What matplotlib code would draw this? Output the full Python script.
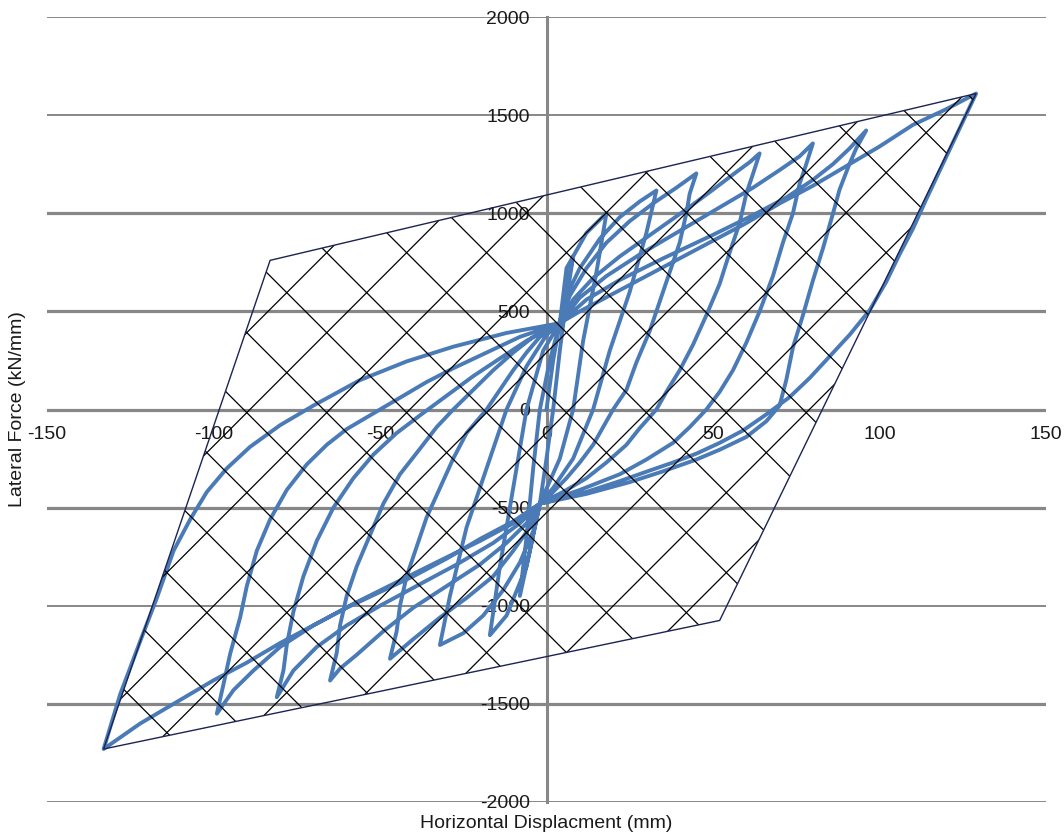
import numpy as np
import matplotlib
matplotlib.use('Agg')
import matplotlib.pyplot as plt
from matplotlib.patches import Polygon
from matplotlib.collections import LineCollection

plt.rcParams['font.family'] = ['Liberation Sans', 'DejaVu Sans']

# axis ticks
x_ticks = [-150, -100, -50, 0, 50, 100, 150]
y_ticks = [-2000, -1500, -1000, -500, 0, 500, 1000, 1500, 2000]
thick_grid = [1000, 500, 0, -500, -1500]

# hysteresis loops, one cycle each (displacement mm, force kN)
loop1_x = [0, 2, 4, 6, 8, 6, 4, 2, 0, -2, -5, -8, -6, -4, -2, 1, 4]
loop1_y = [0, 250, 440, 620, 780, 560, 300, 0, -250, -480, -720, -950, -650, -300, 0, 250, 440]

loop2_x = [4, 6, 12, 18, 15, 11, 8, 4, -2, -6, -12, -17, -14, -10, -6, -1, 4]
loop2_y = [440, 720, 900, 1000, 700, 350, 0, -250, -480, -800, -1050, -1150, -800, -400, 0, 300, 440]

loop3_x = [4, 6, 10, 16, 22, 28, 33, 30, 25, 19, 14, 8, 2, -2,
           -4, -8, -13, -19, -25, -32, -29, -24, -18, -12, -6, 0, 4]
loop3_y = [440, 580, 720, 870, 980, 1060, 1116, 900, 600, 300, 0, -250, -400, -480,
           -620, -780, -920, -1050, -1140, -1200, -950, -600, -300, 0, 220, 380, 440]

loop4_x = [4, 7, 12, 18, 25, 32, 39, 45, 43, 42, 40, 37, 34, 31, 27, 24, 20, 17, 14, 10, 6, 2, -2,
           -5, -10, -16, -24, -32, -40, -47, -45, -44, -42, -39, -36, -32, -28, -24, -18, -14, -10, -6, -2, 4]
loop4_y = [440, 580, 720, 850, 960, 1050, 1130, 1203, 1100, 1000, 850, 700, 550, 400, 240, 100, 0, -90, -180, -270,
           -350, -420, -480,
           -600, -720, -850, -960, -1060, -1170, -1270, -1130, -1000, -850, -700, -550, -400, -250, -120, 0, 100,
           200, 290, 370, 440]

loop5_x = [4, 8, 14, 22, 32, 42, 50, 57, 61, 64, 62, 60, 58, 55, 52, 48, 44, 40, 36, 33, 28, 24, 18, 12, 5, -2,
           -6, -12, -20, -30, -40, -49, -57, -62, -65, -63, -62, -60, -57, -53, -49, -44, -38, -33, -28, -22, -16,
           -10, -4, 4]
loop5_y = [440, 560, 670, 780, 900, 1020, 1120, 1210, 1260, 1305, 1200, 1100, 950, 800, 640, 480, 330, 200, 90, 0,
           -95, -180, -270, -350, -420, -480,
           -580, -680, -790, -900, -1010, -1130, -1250, -1320, -1381, -1240, -1100, -950, -800, -640, -480, -330,
           -200, -90, 0, 100, 200, 290, 370, 440]

loop6_x = [4, 10, 18, 28, 40, 52, 62, 70, 76, 80, 78, 76, 74, 71, 68, 64, 60, 56, 52, 48, 43, 38, 30, 22, 10, -2,
           -8, -16, -27, -38, -50, -60, -69, -76, -81, -79, -78, -76, -73, -69, -64, -58, -52, -45, -38, -30, -22,
           -14, -6, 4]
loop6_y = [440, 570, 680, 790, 910, 1030, 1130, 1220, 1290, 1356, 1250, 1150, 1000, 850, 680, 500, 340, 200, 90, 0,
           -90, -170, -255, -330, -410, -480,
           -580, -680, -790, -890, -1000, -1100, -1210, -1330, -1466, -1330, -1200, -1030, -850, -670, -500, -350,
           -230, -120, -30, 70, 170, 260, 350, 440]

loop7_x = [4, 12, 22, 35, 50, 62, 72, 80, 86, 91, 96, 93, 91, 88, 86, 83, 80, 77, 74, 72, 70, 66, 60, 52, 45, 35,
           25, 12, -2,
           -10, -20, -32, -45, -58, -70, -80, -88, -94, -99, -97, -95, -92, -90, -87, -83, -78, -72, -66, -60, -52,
           -45, -36, -28, -18, -8, 4]
loop7_y = [440, 560, 660, 770, 890, 990, 1080, 1170, 1250, 1330, 1422, 1330, 1252, 1120, 997, 820, 657, 480, 316,
           150, 20, -60, -140, -205, -255, -315, -370, -430, -480,
           -580, -670, -770, -880, -990, -1100, -1210, -1330, -1430, -1550, -1400, -1245, -1060, -900, -720, -560,
           -410, -280, -180, -100, -20, 50, 140, 210, 290, 370, 440]

loop8_x = [4, 10, 20, 30, 40, 50, 60, 70, 80, 90, 100, 110, 120, 129,
           124, 119, 114, 110, 106, 102, 97, 91, 85, 79, 73, 66, 59, 52, 45, 38, 31, 22, 12, -2,
           -10, -20, -30, -40, -50, -60, -70, -80, -90, -100, -110, -122, -133,
           -128, -122, -117, -112, -107, -102, -96, -89, -80, -70, -56, -42, -28, -12, 4]
loop8_y = [440, 500, 590, 680, 770, 860, 950, 1050, 1140, 1240, 1340, 1450, 1530, 1610,
           1430, 1250, 1070, 920, 790, 650, 505, 380, 270, 160, 63, -25, -107, -170, -225, -270, -311, -365, -420,
           -480,
           -570, -660, -760, -850, -930, -1010, -1100, -1190, -1290, -1380, -1480, -1600, -1730,
           -1450, -1180, -960, -720, -560, -420, -300, -190, -80, 20, 150, 245, 320, 390, 440]

# outer envelope polygon
env_x = [129, -83, -133, 52]
env_y = [1610, 760, -1730, -1075]

loops = [(loop1_x, loop1_y), (loop2_x, loop2_y), (loop3_x, loop3_y), (loop4_x, loop4_y),
         (loop5_x, loop5_y), (loop6_x, loop6_y), (loop7_x, loop7_y), (loop8_x, loop8_y)]
disp = np.concatenate([np.array(lx, float) for lx, ly in loops])
force = np.concatenate([np.array(ly, float) for lx, ly in loops])

fig = plt.figure(figsize=(10.64, 8.34), dpi=100)
ax = fig.add_axes([47 / 1064, 32 / 834, 999 / 1064, 785 / 834])
ax.set_xlim(-150, 150)
ax.set_ylim(-2000, 2000)

for y in y_ticks:
    ax.axhline(y, color='#878787', lw=2.3 if y in thick_grid else 1.4, zorder=1)

for s in ['top', 'right']:
    ax.spines[s].set_visible(False)
ax.spines['bottom'].set_position(('data', 0))
ax.spines['bottom'].set_color('none')
ax.spines['left'].set_position(('data', 0))
ax.spines['left'].set_color('#878787')
ax.spines['left'].set_linewidth(2.2)
ax.spines['left'].set_zorder(1.5)

ax.set_xticks(x_ticks)
ax.set_yticks(y_ticks)
ax.set_xticklabels([str(v) for v in x_ticks])
ax.set_yticklabels([str(v) for v in y_ticks])
ax.tick_params(axis='both', length=0, labelsize=14, labelcolor='#1a1a1a')
ax.tick_params(axis='x', pad=12)
ax.tick_params(axis='y', pad=12)

ax.plot(disp, force, color='#4a7bb7', lw=2.8, solid_joinstyle='round', zorder=3)

poly = Polygon(np.column_stack([env_x, env_y]), closed=True, fill=False,
               edgecolor='#1b2452', lw=1.0, zorder=5)
ax.add_patch(poly)

# diamond hatch inside the envelope
hx, hy = 24.0, 407.6
ox, oy = 6.0, -16.0
segs = []
for k in range(-20, 21):
    x0 = ox + k * hx
    segs.append([(x0 - 12 * hx, oy - 12 * hy), (x0 + 12 * hx, oy + 12 * hy)])
    segs.append([(x0 - 12 * hx, oy + 12 * hy), (x0 + 12 * hx, oy - 12 * hy)])
lc = LineCollection(segs, colors='black', linewidths=0.9, zorder=4)
ax.add_collection(lc)
lc.set_clip_path(poly)

fig.text(546 / 1064, 1 - 823 / 834, 'Horizontal Displacment (mm)', ha='center', va='center',
         fontsize=14, color='#1a1a1a')
fig.text(18 / 1064, 1 - 409 / 834, 'Lateral Force (kN/mm)', ha='center', va='center',
         rotation=90, fontsize=14, color='#1a1a1a')

fig.savefig('out.png', dpi=100)
